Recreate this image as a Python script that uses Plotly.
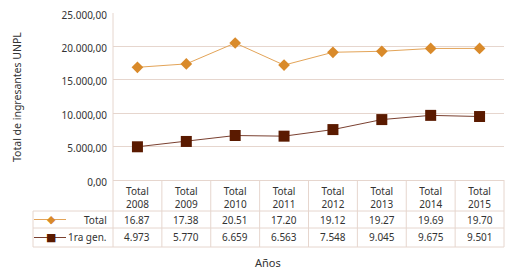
import plotly.graph_objects as go

# ---- data ----
years = ["2008", "2009", "2010", "2011", "2012", "2013", "2014", "2015"]
header_labels = ["Total<br>" + y for y in years]
total_vals = [16870, 17380, 20510, 17200, 19120, 19270, 19690, 19700]
total_txt = ["16.87", "17.38", "20.51", "17.20", "19.12", "19.27", "19.69", "19.70"]
gen_vals = [4973, 5770, 6659, 6563, 7548, 9045, 9675, 9501]
gen_txt = ["4.973", "5.770", "6.659", "6.563", "7.548", "9.045", "9.675", "9.501"]
series_names = ["Total", "1ra gen."]
y_ticks = [0, 5000, 10000, 15000, 20000, 25000]

# ---- style ----
FONT = "Noto Sans"
ORANGE = "#D98A2A"
ORANGE_LINE = "#E3A458"
BROWN = "#5A1A00"
BROWN_LINE = "#7A4030"
GRID = "#E6D6CE"
TXT = "#333333"

# page has an 8px body margin: build the figure in page pixel space minus that offset
OFF = 8
PAGE_W, PAGE_H = 528, 270
W, H = PAGE_W - OFF, PAGE_H - OFF
PLOT_L, PLOT_R, PLOT_T, PLOT_B = 113, 504, 13, 180  # page pixels
L, T = PLOT_L - OFF, PLOT_T - OFF
R, B = W - (PLOT_R - OFF), H - (PLOT_B - OFF)
PW, PH = PLOT_R - PLOT_L, PLOT_B - PLOT_T

def dx(px):  # page pixel x -> x domain fraction
    return (px - PLOT_L) / PW

def dy(py):  # page pixel y -> y domain fraction
    return (PLOT_B - py) / PH

fig = go.Figure()
fig.add_trace(go.Scatter(x=header_labels, y=total_vals, name=series_names[0],
                         mode="lines+markers",
                         line=dict(color=ORANGE_LINE, width=1),
                         marker=dict(symbol="diamond", size=9, color=ORANGE)))
fig.add_trace(go.Scatter(x=header_labels, y=gen_vals, name=series_names[1],
                         mode="lines+markers",
                         line=dict(color=BROWN_LINE, width=1),
                         marker=dict(symbol="square", size=11, color=BROWN)))

n = len(years)
row_top = dy(211)
row_mid = dy(228)
row_bot = dy(247)
leg_left = dx(33)

shapes = []
for yy in [row_top, row_mid, row_bot]:
    shapes.append(dict(type="line", xref="x domain", yref="y domain",
                       x0=leg_left, x1=1, y0=yy, y1=yy,
                       line=dict(color=GRID, width=1)))
for i in range(1, n + 1):
    shapes.append(dict(type="line", xref="x domain", yref="y domain",
                       x0=i / n, x1=i / n, y0=0, y1=row_bot,
                       line=dict(color=GRID, width=1)))
shapes.append(dict(type="line", xref="x domain", yref="y domain",
                   x0=0, x1=0, y0=1, y1=row_bot, line=dict(color=GRID, width=1)))
shapes.append(dict(type="line", xref="x domain", yref="y domain",
                   x0=leg_left, x1=leg_left, y0=row_top, y1=row_bot,
                   line=dict(color=GRID, width=1)))
y_total = (row_top + row_mid) / 2
y_gen = (row_mid + row_bot) / 2
for yc, col in [(y_total, ORANGE_LINE), (y_gen, BROWN_LINE)]:
    shapes.append(dict(type="line", xref="x domain", yref="y domain",
                       x0=dx(34), x1=dx(66), y0=yc, y1=yc,
                       line=dict(color=col, width=1)))

ann = []
def add_ann(**kw):
    kw.setdefault("xanchor", "center")
    kw.setdefault("yanchor", "middle")
    kw.setdefault("showarrow", False)
    ann.append(kw)

for i in range(n):
    add_ann(x=header_labels[i], y=y_total, xref="x", yref="y domain",
            text=total_txt[i], font=dict(size=10, color=TXT))
    add_ann(x=header_labels[i], y=y_gen, xref="x", yref="y domain",
            text=gen_txt[i], font=dict(size=10, color=TXT))
add_ann(x=dx(109), y=y_total, xref="x domain", yref="y domain", xanchor="right",
        text=series_names[0], font=dict(size=10, color=TXT))
add_ann(x=dx(109), y=y_gen, xref="x domain", yref="y domain", xanchor="right",
        text=series_names[1], font=dict(size=10, color=TXT))
add_ann(x=dx(51), y=y_total, xref="x domain", yref="y domain",
        text="◆", font=dict(size=11, color=ORANGE, family="DejaVu Sans"))
add_ann(x=dx(51), y=y_gen, xref="x domain", yref="y domain",
        text="■", font=dict(size=11, color=BROWN, family="DejaVu Sans"))
add_ann(x=dx(17), y=dy(97), xref="x domain", yref="y domain", textangle=-90,
        text="Total de ingresantes UNPL", font=dict(size=10.5, color=TXT))
add_ann(x=dx(268), y=dy(262), xref="x domain", yref="y domain",
        text="Años", font=dict(size=11, color=TXT))

fig.update_layout(
    template="none",
    width=W, height=H,
    margin=dict(l=L, r=R, t=T, b=B, autoexpand=False),
    paper_bgcolor="white", plot_bgcolor="white",
    font=dict(family=FONT, size=10, color=TXT),
    separators=",.",
    showlegend=False,
    shapes=shapes, annotations=ann,
)
fig.update_xaxes(type="category", range=[-0.5, n - 0.5], showgrid=False,
                 showline=False, zeroline=False, ticks="", automargin=False,
                 tickfont=dict(size=10, color=TXT),
                 ticklabelstandoff=4, fixedrange=True)
fig.update_yaxes(range=[0, 25000], tickvals=y_ticks, tickformat=",.2f",
                 showgrid=True, gridcolor=GRID, gridwidth=1,
                 zeroline=True, zerolinecolor=GRID, zerolinewidth=1,
                 showline=False, ticks="", ticklabelstandoff=5, automargin=False,
                 ticklabeloverflow="allow", ticklabelshift=2,
                 tickfont=dict(size=10, color=TXT), fixedrange=True)

fig.write_html("out.html")
